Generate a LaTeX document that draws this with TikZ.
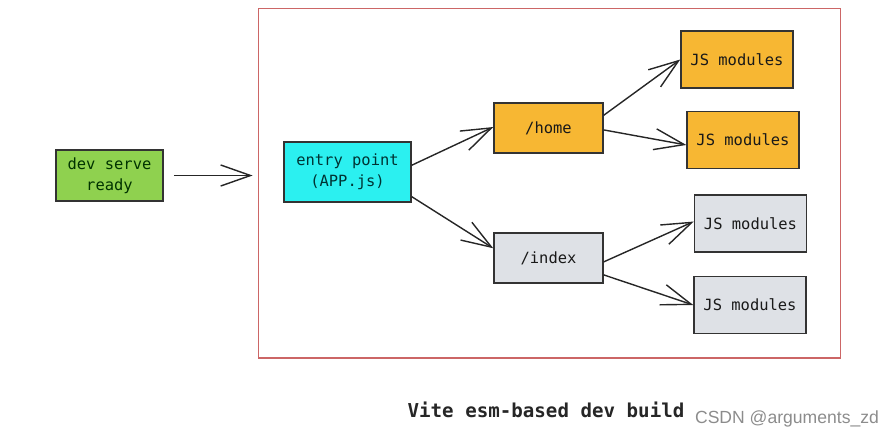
\documentclass[tikz,border=0pt]{standalone}
\usepackage{fontspec}
\setmonofont{DejaVu Sans Mono}
\newfontfamily\markfont{Liberation Sans}
\usepackage{xcolor}
\usetikzlibrary{arrows.meta,positioning}

\definecolor{devgreen}{HTML}{8FD14F}
\definecolor{entrycyan}{HTML}{2BF0F0}
\definecolor{routeorange}{HTML}{F7B733}
\definecolor{routegray}{HTML}{DEE1E6}
\definecolor{framered}{HTML}{CC6666}

\begin{document}
\begin{tikzpicture}[
  x=0.02cm, y=-0.02cm,
  box/.style={rectangle, draw=black!80, line width=0.85pt, align=center, inner sep=0pt,
    font=\ttfamily\fontsize{8.8}{12}\selectfont, text=black!90},
  devbox/.style={box, fill=devgreen, minimum width=2.14cm, minimum height=1.02cm, text=green!20!black},
  entrybox/.style={box, fill=entrycyan, minimum width=2.54cm, minimum height=1.2cm, text=teal!40!black},
  routebox/.style={box, minimum width=2.18cm, minimum height=1.0cm},
  modbox/.style={box, minimum width=2.24cm, minimum height=1.14cm},
  frame/.style={rectangle, draw=framered, line width=0.6pt, minimum width=11.66cm, minimum height=7cm},
  >={Straight Barb[length=17pt, width=12pt, line width=0.8pt]}
]
  \useasboundingbox (0,0) rectangle (889,440);

  % left side
  \node[devbox] (dev) at (109.5,175.5) {dev serve\\ready};
  \node[frame] (frame) at (549.5,183) {};

  % entry and routes
  \node[entrybox] (entry) at (347.5,172) {entry point\\(APP.js)};
  \node[routebox, fill=routeorange] (home) at (548.5,128) {/home};
  \node[routebox, fill=routegray] (index) at (548.5,258) {/index};

  % modules (right column)
  \node[modbox, fill=routeorange] (mod1) at (737,59.5) {JS modules};
  \node[modbox, fill=routeorange] (mod2) at (743,140) {JS modules};
  \node[modbox, fill=routegray] (mod3) at (750.5,223.5) {JS modules};
  \node[modbox, fill=routegray] (mod4) at (750,305) {JS modules};

  % caption
  \node[font=\ttfamily\bfseries\fontsize{10.9}{13}\selectfont, text=black!85] (caption) at (546,410) {Vite esm-based dev build};
  \node[font=\markfont\fontsize{10}{12}\selectfont, text=black!45] (mark) at (787,419) {CSDN @arguments\_zd};

  % connections
  \draw[->, line width=0.8pt, black!85, shorten <=5.7pt, shorten >=2.8pt]
    (dev.east) -- (dev.east -| frame.west);
  \path[->, line width=0.8pt, black!85]
    (entry.6) edge (home.179)
    (entry.-21) edge (index.170)
    (home.13) edge (mod1.180)
    (home.-2) edge (mod2.-175)
    (index.-4) edge (mod3.178)
    (index.-17) edge (mod4.180);
\end{tikzpicture}
\end{document}
